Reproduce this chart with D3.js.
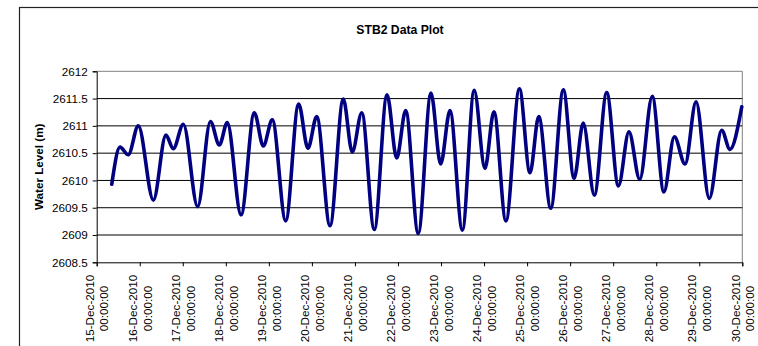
<!DOCTYPE html>
<html><head><meta charset="utf-8">
<script src="https://cdn.jsdelivr.net/npm/d3@7"></script>
<style>
body{margin:0;background:#fff;}
text{font-family:Arial,"Liberation Sans",sans-serif;fill:#000;}
</style></head>
<body><svg id="c" width="758" height="346"></svg>
<script>
// Hours after 15-Dec-2010 00:00:00 of each turning point
const hours = [8.4,13.0,17.6,23.2,31.6,38.6,42.7,48.3,56.3,63.4,68.4,72.8,80.5,87.9,92.9,97.9,105.4,112.6,117.8,122.7,130.1,137.5,142.5,147.8,154.8,161.9,167.3,172.3,179.3,186.4,191.8,197.0,203.9,210.5,216.5,221.5,228.2,235.7,241.6,246.5,253.2,260.2,266.2,271.3,277.5,284.4,290.9,296.8,302.8,309.8,316.3,322.1,328.1,334.2,341.6,348.5,353.1,359.7];
// Water level (m)
const levels = [2609.93,2610.61,2610.47,2611.00,2609.64,2610.83,2610.58,2611.03,2609.52,2611.08,2610.65,2611.06,2609.37,2611.24,2610.63,2611.11,2609.26,2611.40,2610.59,2611.17,2609.17,2611.49,2610.52,2611.24,2609.10,2611.57,2610.41,2611.28,2609.03,2611.60,2610.30,2611.28,2609.09,2611.65,2610.22,2611.26,2609.26,2611.68,2610.14,2611.17,2609.49,2611.66,2610.04,2611.05,2609.73,2611.61,2609.90,2610.89,2610.02,2611.54,2609.79,2610.80,2610.30,2611.44,2609.67,2610.92,2610.57,2611.35];
const yTicks = [2608.5,2609,2609.5,2610,2610.5,2611,2611.5,2612];
const title = "STB2 Data Plot";
const yLabel = "Water Level (m)";
const startDate = new Date(2010,11,15,0,0,0);
const endDate = new Date(2010,11,30,0,0,0);

const svg = d3.select("#c");
const L=96.7, R=742.3, T=71.3, B=262.3;

// outer chart border
svg.append("rect").attr("x",19.5).attr("y",7.5).attr("width",800).attr("height",400)
  .attr("fill","#fff").attr("stroke","#222").attr("stroke-width",1.2);

const x = d3.scaleTime().domain([startDate,endDate]).range([L,R]);
const y = d3.scaleLinear().domain([2608.5,2612]).range([B,T]);

// plot area frame (top/right grey)
svg.append("path").attr("d",`M${L},${T}H${R}V${B}`).attr("fill","none").attr("stroke","#808080").attr("stroke-width",1);

// gridlines
svg.append("g").selectAll("line").data(yTicks.filter(d=>d>2608.5 && d<2612)).join("line")
  .attr("x1",L).attr("x2",R).attr("y1",d=>y(d)).attr("y2",d=>y(d))
  .attr("stroke","#000").attr("stroke-width",1);

// y axis
const yAxis = d3.axisLeft(y).tickValues(yTicks).tickSize(4).tickFormat(d=>String(d));
const gy = svg.append("g").attr("transform",`translate(${L},0)`).call(yAxis);
gy.select(".domain").attr("stroke","#000");
gy.selectAll(".tick line").attr("stroke","#000");
gy.selectAll(".tick text").attr("x",-9).attr("font-size","11.7px").attr("font-family","Arial, 'Liberation Sans', sans-serif").attr("fill","#000");

// x axis
const days = d3.timeDay.range(startDate, d3.timeDay.offset(endDate,1));
const xAxis = d3.axisBottom(x).tickValues(days).tickSize(4).tickFormat("");
const gx = svg.append("g").attr("transform",`translate(0,${B})`).call(xAxis);
gx.select(".domain").attr("stroke","#000");
gx.selectAll(".tick line").attr("stroke","#000");
const f1 = d3.timeFormat("%d-%b-%Y"), f2 = d3.timeFormat("%H:%M:%S");
const xl = svg.append("g").selectAll("g").data(days).join("g")
  .attr("transform",d=>`translate(${x(d)},308.5) rotate(-90)`);
xl.append("text").attr("text-anchor","middle").attr("y",-2.8).attr("font-size","11.7px").text(d=>f1(d));
xl.append("text").attr("text-anchor","middle").attr("y",11.8).attr("font-size","11.7px").text(d=>f2(d));

// data line
const data = hours.map((h,i)=>({t:d3.timeMinute.offset(startDate,Math.round(h*60)), v:levels[i]}));
const line = d3.line().x(d=>x(d.t)).y(d=>y(d.v)).curve(d3.curveMonotoneX);
svg.append("path").datum(data).attr("d",line).attr("fill","none")
  .attr("stroke","#000080").attr("stroke-width",3.6).attr("stroke-linejoin","round").attr("stroke-linecap","round");

// title
svg.append("text").attr("x",400).attr("y",34).attr("text-anchor","middle")
  .attr("font-weight","bold").attr("font-size","12.2px").text(title);
// y label
svg.append("text").attr("transform",`translate(43,${(T+B)/2}) rotate(-90)`).attr("text-anchor","middle")
  .attr("font-weight","bold").attr("font-size","11.7px").text(yLabel);
</script></body></html>
